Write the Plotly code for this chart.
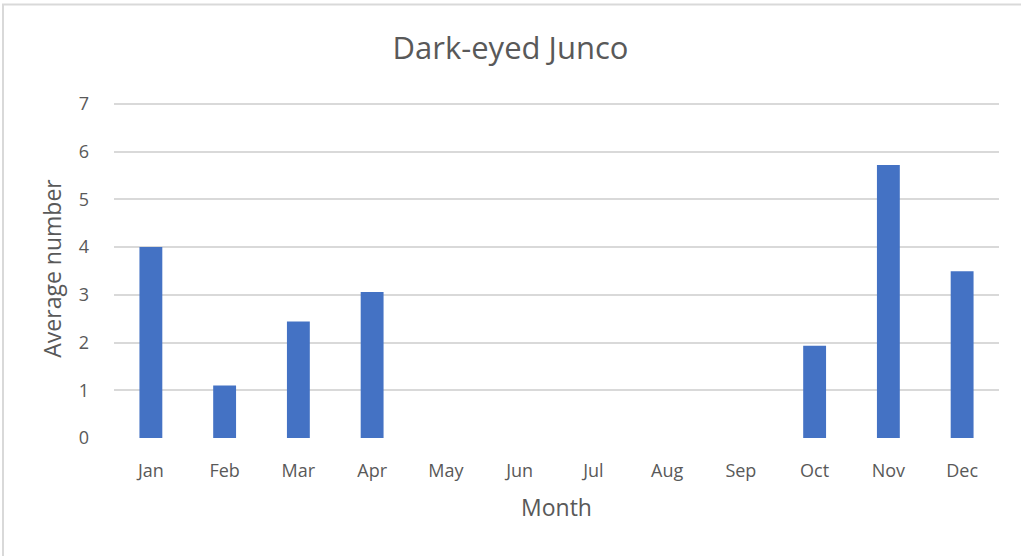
import plotly.graph_objects as go

months = ["Jan", "Feb", "Mar", "Apr", "May", "Jun", "Jul", "Aug", "Sep", "Oct", "Nov", "Dec"]
avg_number = [4.0, 1.1, 2.44, 3.06, 0, 0, 0, 0, 0, 1.93, 5.72, 3.49]
y_ticks = [0, 1, 2, 3, 4, 5, 6, 7]

FONT = "Open Sans"
TXT = "#595959"

fig = go.Figure(go.Bar(x=months, y=avg_number, marker=dict(color="#4472C4", line=dict(width=0))))

fig.update_layout(
    width=1021, height=556,
    margin=dict(l=114, r=22, t=99, b=118),
    paper_bgcolor="white", plot_bgcolor="white",
    bargap=0.69,
    showlegend=False,
    title=dict(text="Dark-eyed Junco", x=0.5, xref="container", xanchor="center",
               y=1 - 48/556, yanchor="middle", yref="container",
               font=dict(family=FONT, size=31, color=TXT)),
    font=dict(family=FONT, color=TXT),
)

fig.update_xaxes(
    type="category", showgrid=False, showline=False, zeroline=False,
    tickfont=dict(family=FONT, size=18, color=TXT), ticks="", ticklabelstandoff=20,
    title=dict(text="Month", font=dict(family=FONT, size=23, color=TXT), standoff=18),
)
fig.update_yaxes(
    range=[0, 7.1], tickvals=y_ticks, showgrid=True, gridcolor="#d9d9d9", gridwidth=1.5,
    zeroline=False, showline=False, ticks="", ticklabelstandoff=24,
    tickfont=dict(family=FONT, size=18, color=TXT),
    title=dict(text="Average number", font=dict(family=FONT, size=23, color=TXT), standoff=10),
)

fig.add_shape(type="rect", xref="paper", yref="paper",
              x0=(3 - 114) / 885, x1=1.1, y0=-0.5, y1=(438 - 4.5) / 339,
              line=dict(color="#d9d9d9", width=2), fillcolor="rgba(0,0,0,0)", layer="below")

fig.write_html("out.html", config={"displayModeBar": False},
               post_script="document.body.style.margin='0px';")
